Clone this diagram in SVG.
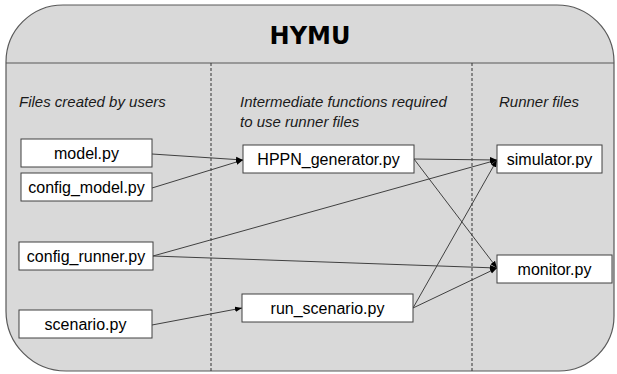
<svg xmlns="http://www.w3.org/2000/svg" width="617" height="374" viewBox="0 0 617 374">
<defs>
<style>
.box{fill:#ffffff;stroke:#404040;stroke-width:1}
.lbl{font-family:"Liberation Sans",Arial,sans-serif;font-size:16px;fill:#000;text-anchor:middle}
.hd{font-family:"Liberation Sans",Arial,sans-serif;font-size:15px;font-style:italic;fill:#1a1a1a}
.div{stroke:#333;stroke-width:1;stroke-dasharray:3,2;fill:none}
.con{stroke:#404040;stroke-width:1;fill:none;marker-end:url(#ah)}
</style>
<marker id="ah" viewBox="0 0 10 10" refX="10" refY="5" markerWidth="7" markerHeight="7" orient="auto" markerUnits="userSpaceOnUse">
<path d="M0,1 L10,5 L0,9 Z" fill="#000"/>
</marker>
</defs>
<rect width="617" height="374" fill="#ffffff"/>
<g id="frame">
<path d="M6,62 A57,57 0 0 1 63,5 L557,5 A57,57 0 0 1 614,62 L614,316 A55,55 0 0 1 559,371 L66,371 A60,60 0 0 1 6,311 Z" fill="#d9d9d9" stroke="#595959" stroke-width="1.2"/>
<line x1="6" y1="63" x2="614" y2="63" stroke="#595959" stroke-width="1.2"/>
<text x="310" y="44" font-family="'DejaVu Sans',Verdana,sans-serif" font-size="24" font-weight="bold" text-anchor="middle" fill="#000">HYMU</text>
<line class="div" x1="211" y1="63" x2="211" y2="371"/>
<line class="div" x1="472" y1="63" x2="472" y2="371"/>
<text class="hd" x="19" y="107">Files created by users</text>
<text class="hd" x="240" y="107">Intermediate functions required</text>
<text class="hd" x="240" y="127">to use runner files</text>
<text class="hd" x="499" y="107">Runner files</text>
</g>
<g id="connectors">
<line class="con" x1="152" y1="154" x2="243" y2="160"/>
<line class="con" x1="152" y1="188" x2="243" y2="160"/>
<line class="con" x1="414" y1="159" x2="497" y2="160"/>
<line class="con" x1="414" y1="159" x2="497" y2="268"/>
<line class="con" x1="153" y1="256" x2="497" y2="160"/>
<line class="con" x1="153" y1="256" x2="497" y2="268"/>
<line class="con" x1="152" y1="325" x2="242" y2="308"/>
<line class="con" x1="413" y1="308" x2="497" y2="160"/>
<line class="con" x1="413" y1="308" x2="497" y2="268"/>
</g>
<g id="model"><rect class="box" x="21" y="139" width="131" height="28"/><text class="lbl" x="86.5" y="159">model.py</text></g>
<g id="config_model"><rect class="box" x="21" y="173" width="131" height="28"/><text class="lbl" x="86.5" y="193">config_model.py</text></g>
<g id="config_runner"><rect class="box" x="19" y="242" width="134" height="28"/><text class="lbl" x="86" y="262">config_runner.py</text></g>
<g id="scenario"><rect class="box" x="19" y="310" width="133" height="28"/><text class="lbl" x="85.5" y="330">scenario.py</text></g>
<g id="hppn_generator"><rect class="box" x="243" y="145" width="171" height="28"/><text class="lbl" x="328.5" y="165">HPPN_generator.py</text></g>
<g id="run_scenario"><rect class="box" x="242" y="294" width="171" height="28"/><text class="lbl" x="327.5" y="314">run_scenario.py</text></g>
<g id="simulator"><rect class="box" x="497" y="145" width="105" height="28"/><text class="lbl" x="549.5" y="165">simulator.py</text></g>
<g id="monitor"><rect class="box" x="497" y="255" width="115" height="28"/><text class="lbl" x="554.5" y="275">monitor.py</text></g>
</svg>
